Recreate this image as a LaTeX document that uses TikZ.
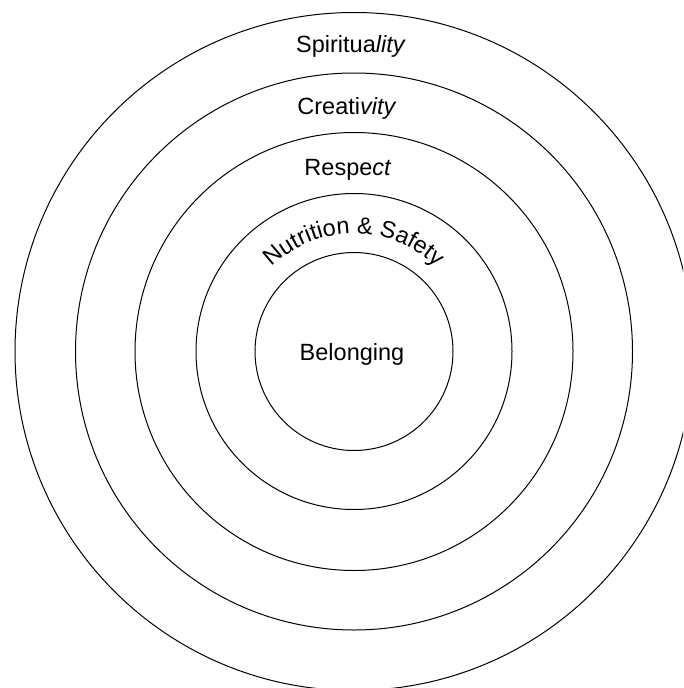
\documentclass[tikz,border=0pt]{standalone}
\usepackage{fontspec}
\setmainfont{Liberation Sans}
\usetikzlibrary{decorations.text,calc}
\begin{document}
\begin{tikzpicture}[x=1pt,y=1pt,
  ring/.style={circle,draw=black,line width=1pt,inner sep=0pt,fill=none},
  lbl/.style={font=\fontsize{23.5}{28}\selectfont,anchor=base,inner sep=0pt}]
\useasboundingbox (0,0) rectangle (683,-688);
\fill[white] (0,0) rectangle (683,-688);
\clip (0,0) rectangle (683,-688);
\coordinate (c) at (354,-351.5);
\node[ring,minimum size=678pt] (spirituality) at (c) {};
\node[ring,minimum size=557pt] (creativity) at (c) {};
\node[ring,minimum size=438pt] (respect) at (c) {};
\node[ring,minimum size=316pt] (nutrition) at (c) {};
\node[ring,minimum size=198pt] (belonging) at (c) {};
\node[lbl] (tspir) at (351,-52.5) {Spiritua\textit{lity}};
\node[lbl] (tcrea) at (347,-114) {Creati\textit{vity}};
\node[lbl] (tresp) at (348,-175) {Respe\textit{ct}};
\node[lbl] (tbel) at (352,-360) {Belonging};
\path[decorate,decoration={text along path,text align=center,
  text={|\fontsize{23.5}{28}\selectfont|Nutrition {\&} Safety}}]
  ($(c)+(140:118)$) arc[start angle=140,end angle=40,radius=118];
\end{tikzpicture}
\end{document}
